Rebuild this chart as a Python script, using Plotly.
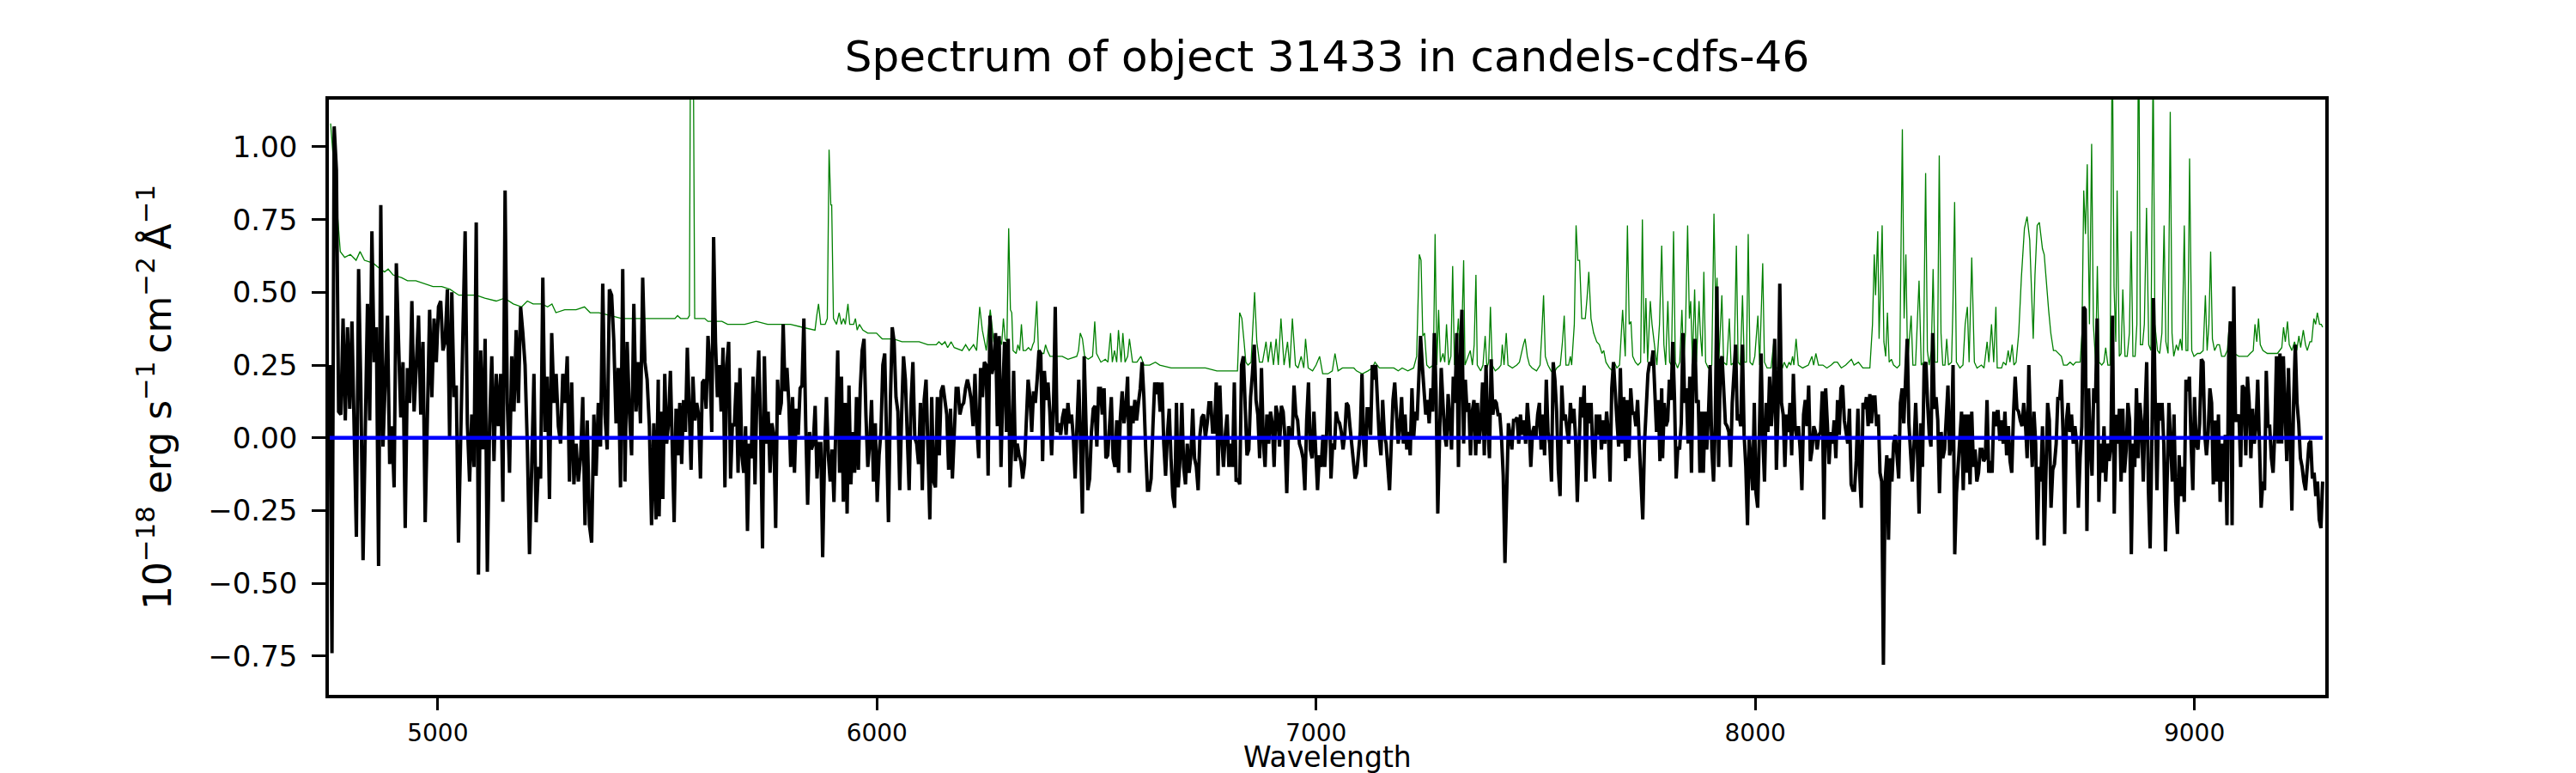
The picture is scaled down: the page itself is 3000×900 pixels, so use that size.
import numpy as np
import plotly.graph_objects as go

# wavelength ranges covered by each block of flux readings (Angstrom)
SEGMENT_RANGES = [(4754, 5502), (5504, 6266), (6266, 7028),
                  (7030, 7787), (7789, 8551), (8553, 9292)]

FLUX_1 = [0.25, -0.74, 1.07, 0.92, 0.09, 0.08, 0.41, 0.06, 0.38, 0.10, 0.40, -0.02, -0.34, 0.58, 0.17,
          -0.42, 0.10, 0.46, 0.06, 0.71, 0.26, 0.38, -0.44, 0.80, -0.03, 0.18, 0.42, -0.09, 0.04, -0.17,
          0.60, 0.33, 0.07, 0.26, -0.31, 0.24, 0.12, 0.47, 0.09, 0.25, 0.42, 0.08, 0.33, -0.29, 0.06,
          0.44, 0.14, 0.41, 0.26, 0.45, 0.47, 0.30, 0.33, 0.51, 0.00, 0.50, 0.14, 0.18, -0.36, 0.08,
          0.36, 0.71, 0.05, -0.15, 0.08, -0.10, 0.74, -0.47, 0.30, -0.04, 0.34, -0.46, 0.04, 0.28, -0.08,
          0.22, 0.04, 0.22, -0.22, 0.85, 0.12, -0.12, 0.28, 0.09, 0.37, 0.12, 0.45, 0.36, 0.25, -0.02,
          -0.40, -0.10, 0.22, -0.29, -0.10, -0.14, 0.55, 0.02, 0.21, -0.21, 0.36, 0.12, 0.22, 0.04, -0.02,
          0.22, 0.12, 0.28, -0.15, 0.19, -0.16, -0.02, -0.15, -0.07, 0.14, -0.30, 0.06, -0.30, -0.36, 0.08,
          -0.13, 0.12, -0.03, 0.53, 0.08, -0.04, 0.51, 0.49, 0.33, 0.05, 0.24, -0.17, 0.58, -0.15, 0.33,
          0.09, -0.06, 0.46, 0.09, 0.26, 0.05, 0.55, 0.26, 0.20, 0.04, -0.30, 0.05, -0.28, 0.20]

FLUX_2 = [-0.27, 0.09, -0.21, 0.22, -0.02, 0.05, 0.23, 0.00, -0.29, 0.10, -0.06, 0.12, -0.09, 0.13, 0.02,
          0.31, 0.11, -0.11, 0.21, 0.06, 0.12, 0.08, -0.14, 0.19, 0.20, 0.10, 0.35, 0.25, 0.02, 0.69,
          0.33, 0.14, 0.25, 0.09, 0.31, -0.17, 0.25, 0.33, -0.14, 0.05, 0.04, 0.19, -0.12, 0.24, -0.06,
          -0.12, 0.04, -0.32, -0.02, -0.07, 0.21, -0.16, 0.15, 0.30, 0.03, -0.38, 0.28, -0.02, 0.09, -0.12,
          0.05, 0.01, -0.31, 0.20, 0.08, 0.12, 0.39, 0.16, 0.24, 0.12, -0.10, 0.14, -0.12, 0.10, 0.01,
          0.17, 0.18, 0.41, 0.04, -0.23, 0.02, -0.04, -0.02, 0.11, -0.14, -0.02, -0.02, -0.41, -0.06, 0.14,
          -0.06, -0.15, -0.04, -0.22, 0.04, 0.30, -0.12, 0.21, -0.22, 0.12, -0.26, 0.18, -0.16, 0.02, -0.12,
          0.14, -0.11, 0.17, 0.30, 0.34, 0.08, -0.10, -0.02, 0.13, -0.15, 0.05, -0.22, -0.06, 0.02, 0.25,
          0.29, 0.04, -0.29, 0.12, 0.38, 0.33, 0.14, 0.09, -0.18, 0.08, 0.28, 0.20, 0.02, -0.18, 0.12,
          0.26, 0.00, -0.02, -0.09, 0.12, -0.18, 0.13, 0.20, -0.03, -0.28, 0.14, -0.15, -0.17, 0.14, -0.06,
          0.16, 0.18, 0.13, 0.08, -0.11, 0.10, -0.14, 0.02, 0.17, 0.17, 0.08, 0.11, 0.12, 0.17, 0.20,
          0.17, 0.13, 0.04, 0.22, 0.04, -0.07, 0.24, 0.14, 0.26, 0.25, -0.13, 0.42, 0.22, 0.25]

FLUX_3 = [0.25, 0.36, 0.04, 0.35, -0.10, 0.16, 0.33, 0.02, 0.34, -0.17, -0.02, 0.23, -0.08, -0.02, -0.06,
          -0.08, -0.14, -0.09, 0.06, 0.20, 0.14, 0.02, 0.16, 0.12, 0.20, 0.30, 0.29, -0.08, 0.23, 0.13,
          0.19, 0.09, -0.06, 0.10, 0.45, 0.02, 0.05, 0.01, 0.07, 0.10, 0.01, 0.12, 0.05, 0.08, 0.00,
          -0.14, 0.04, 0.20, -0.02, -0.26, 0.28, -0.02, -0.18, -0.14, 0.02, 0.10, 0.11, -0.03, 0.17, 0.17,
          0.08, 0.17, -0.07, -0.06, 0.04, 0.14, -0.07, -0.10, 0.06, -0.12, 0.07, 0.16, 0.05, 0.10, 0.21,
          -0.12, 0.11, 0.05, 0.13, 0.06, 0.12, 0.17, 0.26, 0.14, -0.04, -0.18, -0.18, -0.14, 0.04, 0.19,
          0.15, 0.19, 0.09, 0.19, -0.02, -0.13, 0.01, 0.10, -0.07, -0.20, -0.24, 0.12, -0.17, -0.07, 0.12,
          -0.10, -0.16, -0.02, -0.12, -0.06, 0.10, -0.07, -0.10, -0.18, 0.01, 0.07, 0.08, 0.00, 0.05, 0.12,
          0.12, 0.02, 0.02, 0.19, -0.13, 0.18, 0.00, -0.10, 0.01, 0.08, -0.10, -0.02, -0.10, 0.19, -0.15,
          -0.14, -0.16, 0.25, 0.28, 0.08, -0.06, -0.04, 0.14, 0.22, 0.32, 0.13, 0.08, -0.07, 0.24, -0.01,
          -0.10, 0.08, -0.02, 0.09, 0.05, -0.10, 0.11, 0.08, -0.03, 0.11, 0.09, 0.00, -0.19, 0.04, 0.01,
          0.00, 0.18, 0.08, 0.06, -0.02, -0.04, -0.07, -0.18, 0.06, 0.19, -0.04, -0.07, 0.09, -0.07, -0.18,
          -0.06, -0.10, 0.01, -0.10, 0.01, 0.20]

FLUX_4 = [0.20, -0.14, -0.02, -0.04, 0.09, 0.06, 0.05, 0.02, -0.04, 0.01, 0.12, 0.11, 0.04, -0.02, -0.10,
          -0.14, -0.12, -0.06, 0.02, 0.22, -0.02, -0.10, 0.10, 0.10, 0.01, 0.25, 0.20, 0.25, 0.12, 0.00,
          -0.06, 0.13, 0.01, -0.02, -0.10, -0.18, -0.02, 0.13, 0.19, 0.08, -0.02, 0.04, 0.14, -0.02, 0.08,
          -0.04, 0.02, -0.06, 0.17, 0.00, 0.09, 0.06, 0.25, 0.35, 0.25, 0.14, 0.08, 0.13, 0.05, 0.17,
          0.09, 0.36, 0.16, -0.26, 0.05, 0.24, 0.12, 0.01, -0.03, 0.15, 0.06, -0.04, 0.21, 0.12, 0.36,
          -0.10, 0.25, 0.44, -0.02, 0.20, 0.09, 0.12, -0.06, 0.09, 0.13, -0.06, 0.12, -0.02, 0.05, 0.19,
          -0.06, 0.25, 0.04, -0.07, 0.27, 0.08, 0.13, 0.12, 0.08, 0.08, 0.00, -0.13, -0.43, -0.15, 0.05,
          0.01, -0.04, 0.06, 0.06, 0.07, -0.02, 0.08, 0.01, 0.06, -0.02, 0.12, 0.04, -0.10, 0.02, 0.04,
          0.00, 0.08, 0.12, -0.04, 0.08, -0.06, 0.20, 0.02, -0.02, -0.15, 0.26, 0.20, 0.09, -0.11, -0.20,
          0.18, 0.06, 0.08, 0.02, -0.02, 0.12, 0.05, 0.10, 0.00, -0.22, -0.03, 0.14, 0.07, 0.18, -0.15,
          0.12, 0.05, 0.12, -0.05, -0.14, 0.08, 0.01, 0.08, -0.04, 0.06, -0.02, 0.09, 0.02, -0.15, 0.17,
          0.26, 0.14, 0.06, -0.03, 0.24, -0.02, 0.14, -0.08, 0.13, -0.07, 0.17, 0.08, 0.09, 0.04, 0.13,
          -0.02, -0.16, -0.28, -0.02, 0.12, 0.22, 0.26, 0.25, 0.30, 0.14, 0.02, 0.13, -0.08, 0.17]

FLUX_5 = [-0.07, 0.12, 0.04, 0.06, 0.20, 0.13, 0.33, 0.14, -0.14, -0.03, -0.04, 0.05, 0.36, 0.12, 0.17,
          -0.02, 0.21, -0.12, 0.25, 0.34, 0.12, 0.13, -0.12, 0.09, -0.12, 0.09, -0.04, 0.08, 0.25, -0.04,
          -0.15, 0.05, 0.52, -0.10, 0.26, 0.28, 0.13, 0.05, 0.04, 0.02, -0.10, 0.12, 0.22, 0.32, 0.06,
          0.08, 0.04, 0.32, 0.01, -0.10, -0.30, 0.00, -0.08, -0.18, 0.12, -0.19, -0.24, 0.05, 0.29, 0.00,
          -0.15, 0.12, 0.02, 0.21, 0.04, 0.13, 0.34, -0.11, 0.11, 0.53, 0.12, 0.08, -0.10, 0.08, 0.02,
          0.12, -0.06, 0.22, 0.04, 0.00, 0.04, -0.04, -0.18, 0.08, 0.13, 0.04, 0.18, -0.08, -0.04, 0.04,
          0.02, -0.04, 0.01, 0.02, 0.16, -0.28, 0.17, 0.05, -0.09, 0.02, -0.02, 0.06, -0.07, 0.13, 0.01,
          0.17, 0.18, 0.06, 0.02, -0.02, 0.10, -0.16, -0.18, -0.18, -0.08, 0.10, -0.12, -0.24, 0.12, 0.10,
          0.14, 0.04, 0.15, 0.05, 0.14, 0.14, 0.04, 0.08, -0.12, -0.15, -0.78, -0.15, -0.06, -0.35, -0.07,
          -0.15, -0.02, 0.01, -0.06, -0.14, 0.12, 0.17, 0.05, 0.22, 0.34, 0.05, -0.03, -0.15, -0.03, 0.12,
          -0.04, -0.26, 0.05, -0.10, 0.25, 0.26, 0.12, 0.01, -0.03, 0.36, 0.10, 0.14, 0.06, -0.19, 0.02,
          -0.07, -0.04, 0.08, 0.18, -0.06, -0.02, 0.25, -0.40, -0.19, -0.08, 0.01, 0.09, -0.18, 0.08, -0.12,
          0.08, -0.16, 0.09, -0.10, -0.04, -0.15, -0.12, -0.04, -0.04, -0.08, -0.07, 0.13, -0.12, -0.08, -0.12,
          0.09, 0.04, 0.09]

FLUX_6 = [0.09, -0.01, 0.06, -0.02, 0.09, -0.06, 0.04, -0.08, -0.12, 0.08, 0.21, 0.10, 0.09, 0.06, 0.04,
          0.12, 0.05, -0.07, 0.25, 0.04, -0.10, 0.09, -0.02, -0.35, -0.10, -0.15, 0.04, -0.37, -0.10, 0.12,
          0.06, -0.24, -0.11, -0.09, -0.02, 0.14, 0.13, 0.20, 0.02, -0.33, 0.06, 0.12, 0.02, 0.08, -0.02,
          0.04, -0.02, -0.24, -0.07, 0.04, 0.45, 0.44, -0.32, 0.17, -0.02, -0.13, 0.17, 0.12, 0.41, -0.22,
          -0.02, -0.12, 0.04, -0.15, -0.02, -0.08, -0.03, 0.42, -0.26, 0.08, -0.02, 0.10, -0.15, 0.10, -0.12,
          -0.04, 0.12, 0.06, -0.40, -0.02, -0.10, 0.17, -0.07, 0.12, 0.05, -0.15, 0.08, 0.26, -0.18, -0.38,
          -0.02, 0.48, 0.12, -0.18, 0.12, 0.06, 0.12, -0.02, -0.39, -0.07, 0.12, -0.02, -0.15, 0.08, -0.22,
          -0.33, -0.06, -0.20, -0.10, -0.22, 0.20, 0.16, 0.21, -0.02, -0.18, 0.14, -0.02, -0.04, 0.05, 0.27,
          0.26, 0.01, -0.06, 0.02, 0.17, 0.12, -0.16, 0.06, -0.15, 0.08, -0.22, -0.02, -0.15, 0.01, -0.30,
          0.28, 0.40, -0.30, 0.52, 0.06, 0.06, 0.08, -0.10, 0.18, 0.17, -0.06, 0.21, 0.12, -0.07, 0.10,
          -0.02, 0.04, 0.20, -0.02, -0.24, -0.15, -0.18, 0.23, 0.04, 0.04, -0.07, -0.12, 0.02, 0.28, -0.02,
          0.29, -0.02, 0.28, 0.12, -0.08, 0.24, 0.01, -0.25, 0.12, 0.32, 0.12, 0.05, -0.07, -0.10, -0.15,
          -0.18, -0.10, -0.02, -0.01, -0.14, -0.12, -0.20, -0.15, -0.28, -0.31, -0.15]

# sky / noise spectrum, (wavelength, value) vertices
SKY_BLUE = [(4756, 1.08), (4768, 0.85), (4778, 0.64), (4788, 0.62), (4801, 0.63), (4814, 0.61),
            (4823, 0.64), (4833, 0.61), (4853, 0.60), (4869, 0.58), (4879, 0.57), (4887, 0.58),
            (4898, 0.56), (4918, 0.55), (4931, 0.54), (4950, 0.54), (4970, 0.53), (4989, 0.52),
            (5009, 0.52), (5028, 0.51), (5048, 0.49), (5068, 0.49), (5087, 0.49), (5107, 0.48),
            (5133, 0.47), (5152, 0.48), (5172, 0.46), (5191, 0.45), (5204, 0.47), (5217, 0.46),
            (5237, 0.46), (5250, 0.45), (5260, 0.46), (5269, 0.43), (5289, 0.44), (5315, 0.44),
            (5334, 0.45), (5347, 0.43), (5367, 0.43), (5393, 0.42), (5419, 0.41), (5445, 0.41),
            (5465, 0.41), (5484, 0.41)]

SKY_GREEN = [(5504, 0.41), (5524, 0.41), (5540, 0.41), (5546, 0.42), (5553, 0.41), (5569, 0.41),
             (5573, 0.42), (5576, 1.60), (5581, 1.60), (5585, 0.41), (5589, 0.41), (5595, 0.41),
             (5602, 0.41), (5608, 0.41), (5615, 0.40), (5634, 0.40), (5647, 0.40), (5660, 0.39),
             (5680, 0.39), (5699, 0.39), (5725, 0.40), (5751, 0.39), (5777, 0.39), (5803, 0.39),
             (5830, 0.38), (5859, 0.37), (5863, 0.42), (5867, 0.46), (5872, 0.39), (5882, 0.39),
             (5887, 0.41), (5891, 0.99), (5895, 0.80), (5897, 0.80), (5901, 0.41), (5908, 0.39),
             (5914, 0.43), (5919, 0.39), (5924, 0.41), (5928, 0.39), (5934, 0.46), (5938, 0.39),
             (5947, 0.39), (5951, 0.41), (5955, 0.37), (5960, 0.39), (5968, 0.37), (5979, 0.36),
             (5999, 0.36), (6012, 0.34), (6025, 0.34), (6038, 0.34), (6057, 0.33), (6077, 0.33),
             (6096, 0.33), (6116, 0.32), (6135, 0.32), (6141, 0.33), (6148, 0.32), (6155, 0.33),
             (6161, 0.31), (6169, 0.33), (6176, 0.31), (6194, 0.30), (6202, 0.32), (6210, 0.30),
             (6220, 0.32), (6227, 0.30), (6234, 0.45), (6240, 0.37), (6249, 0.30), (6258, 0.44)]

SKY_RED = [(6266, 0.33), (6273, 0.31), (6279, 0.34), (6284, 0.32), (6288, 0.41), (6292, 0.34),
           (6296, 0.33), (6300, 0.72), (6304, 0.44), (6307, 0.43), (6310, 0.30), (6317, 0.29),
           (6321, 0.32), (6325, 0.30), (6329, 0.39), (6333, 0.30), (6339, 0.30), (6345, 0.31),
           (6351, 0.30), (6355, 0.32), (6358, 0.33), (6364, 0.47), (6368, 0.29), (6373, 0.29),
           (6380, 0.29), (6384, 0.32), (6388, 0.30), (6394, 0.28), (6403, 0.28), (6416, 0.28),
           (6422, 0.28), (6435, 0.27), (6455, 0.28), (6459, 0.30), (6463, 0.36), (6468, 0.34),
           (6473, 0.28), (6481, 0.27), (6491, 0.28), (6496, 0.40), (6500, 0.29), (6510, 0.26),
           (6520, 0.27), (6526, 0.26), (6532, 0.36), (6536, 0.26), (6541, 0.30), (6546, 0.26),
           (6550, 0.37), (6556, 0.26), (6560, 0.36), (6565, 0.26), (6571, 0.28), (6575, 0.34),
           (6582, 0.26), (6592, 0.26), (6601, 0.28), (6608, 0.25), (6621, 0.25), (6634, 0.26),
           (6644, 0.25), (6670, 0.24), (6696, 0.24), (6722, 0.24), (6748, 0.24), (6774, 0.23),
           (6800, 0.23), (6821, 0.23), (6826, 0.43), (6831, 0.41), (6836, 0.33), (6840, 0.26),
           (6845, 0.25), (6852, 0.26), (6860, 0.50), (6865, 0.33), (6871, 0.26), (6878, 0.26),
           (6886, 0.33), (6891, 0.26), (6897, 0.33), (6903, 0.25), (6909, 0.34), (6914, 0.25),
           (6920, 0.41), (6927, 0.25), (6935, 0.33), (6940, 0.24), (6946, 0.41), (6953, 0.25),
           (6959, 0.24), (6966, 0.28), (6972, 0.24), (6976, 0.34), (6982, 0.24), (6992, 0.23),
           (7000, 0.25), (7008, 0.28), (7015, 0.22)]

SKY_NEAR_IR = [(7027, 0.22), (7037, 0.23), (7043, 0.29), (7050, 0.23), (7060, 0.24), (7073, 0.24),
               (7086, 0.24), (7092, 0.23), (7105, 0.22), (7118, 0.23), (7128, 0.24), (7134, 0.26),
               (7144, 0.24), (7154, 0.24), (7164, 0.24), (7177, 0.24), (7187, 0.23), (7196, 0.24),
               (7209, 0.23), (7222, 0.24), (7229, 0.28), (7235, 0.63), (7239, 0.61), (7243, 0.35),
               (7247, 0.36), (7252, 0.25), (7258, 0.24), (7267, 0.25), (7271, 0.70), (7275, 0.25),
               (7279, 0.44), (7283, 0.26), (7289, 0.29), (7293, 0.26), (7297, 0.39), (7302, 0.25),
               (7307, 0.28), (7311, 0.59), (7315, 0.25), (7320, 0.32), (7324, 0.41), (7328, 0.28),
               (7332, 0.37), (7336, 0.61), (7339, 0.25), (7346, 0.28), (7351, 0.30), (7356, 0.25),
               (7360, 0.32), (7364, 0.56), (7367, 0.25), (7375, 0.23), (7380, 0.25), (7385, 0.35),
               (7389, 0.24), (7393, 0.26), (7397, 0.45), (7401, 0.25), (7408, 0.23), (7416, 0.24),
               (7421, 0.25), (7424, 0.32), (7428, 0.25), (7433, 0.36), (7437, 0.25), (7447, 0.24),
               (7457, 0.25), (7463, 0.26), (7468, 0.30), (7472, 0.32), (7476, 0.34), (7481, 0.28),
               (7486, 0.25), (7492, 0.24), (7502, 0.23), (7510, 0.25), (7514, 0.36), (7518, 0.49),
               (7522, 0.28), (7528, 0.25), (7535, 0.23), (7541, 0.22), (7548, 0.24), (7556, 0.25),
               (7561, 0.33), (7565, 0.42), (7569, 0.25), (7575, 0.25), (7579, 0.28), (7582, 0.25),
               (7588, 0.39), (7592, 0.73), (7596, 0.61), (7600, 0.61), (7605, 0.41), (7613, 0.41),
               (7617, 0.48), (7621, 0.57), (7626, 0.41), (7632, 0.36), (7639, 0.33), (7645, 0.32),
               (7651, 0.29), (7655, 0.30), (7660, 0.26), (7668, 0.24), (7675, 0.23), (7679, 0.26),
               (7685, 0.24), (7691, 0.25), (7698, 0.44), (7704, 0.28), (7709, 0.73), (7713, 0.39),
               (7717, 0.40), (7721, 0.28), (7727, 0.26), (7733, 0.25), (7739, 0.26), (7743, 0.75),
               (7747, 0.29), (7751, 0.48), (7755, 0.26), (7761, 0.47), (7765, 0.39), (7769, 0.34),
               (7776, 0.25), (7782, 0.39), (7787, 0.66)]

SKY_OH = [(7792, 0.32), (7796, 0.25), (7801, 0.47), (7805, 0.26), (7809, 0.25), (7814, 0.71),
          (7818, 0.26), (7823, 0.24), (7828, 0.26), (7833, 0.44), (7837, 0.26), (7841, 0.36),
          (7846, 0.73), (7850, 0.41), (7853, 0.47), (7857, 0.26), (7862, 0.51), (7866, 0.26),
          (7872, 0.47), (7875, 0.36), (7879, 0.28), (7883, 0.57), (7887, 0.26), (7893, 0.24),
          (7901, 0.25), (7906, 0.77), (7910, 0.44), (7913, 0.55), (7917, 0.26), (7924, 0.49),
          (7928, 0.26), (7935, 0.25), (7941, 0.41), (7945, 0.25), (7952, 0.26), (7957, 0.66),
          (7961, 0.26), (7966, 0.25), (7971, 0.49), (7975, 0.26), (7980, 0.26), (7984, 0.70),
          (7988, 0.26), (7994, 0.25), (7999, 0.28), (8006, 0.42), (8010, 0.25), (8017, 0.60),
          (8021, 0.26), (8027, 0.24), (8036, 0.24), (8043, 0.34), (8047, 0.24), (8056, 0.24),
          (8062, 0.24), (8066, 0.26), (8072, 0.24), (8077, 0.26), (8081, 0.25), (8085, 0.28),
          (8088, 0.25), (8093, 0.34), (8098, 0.25), (8108, 0.24), (8121, 0.25), (8129, 0.28),
          (8133, 0.25), (8138, 0.29), (8144, 0.25), (8154, 0.25), (8163, 0.24), (8173, 0.25),
          (8180, 0.26), (8187, 0.26), (8196, 0.24), (8206, 0.25), (8219, 0.27), (8225, 0.25),
          (8235, 0.26), (8245, 0.24), (8261, 0.24), (8267, 0.39), (8271, 0.63), (8274, 0.49),
          (8279, 0.71), (8282, 0.34), (8286, 0.55), (8289, 0.73), (8293, 0.33), (8297, 0.28),
          (8301, 0.43), (8305, 0.26), (8310, 0.27), (8315, 0.25), (8323, 0.24), (8329, 0.25),
          (8335, 1.06), (8339, 0.41), (8343, 0.63), (8347, 0.26), (8350, 0.32), (8355, 0.42),
          (8359, 0.25), (8365, 0.25), (8373, 0.54), (8378, 0.25), (8383, 0.26), (8388, 0.91),
          (8392, 0.30), (8396, 0.25), (8401, 0.30), (8405, 0.58), (8409, 0.26), (8415, 0.26),
          (8419, 0.97), (8423, 0.36), (8427, 0.25), (8432, 0.25), (8436, 0.34), (8440, 0.25),
          (8447, 0.26), (8450, 0.44), (8454, 0.81), (8458, 0.26), (8466, 0.24), (8473, 0.25),
          (8478, 0.39), (8483, 0.45), (8487, 0.26), (8493, 0.62), (8499, 0.26), (8505, 0.24),
          (8515, 0.25), (8521, 0.24), (8528, 0.33), (8532, 0.26), (8538, 0.39), (8543, 0.26),
          (8548, 0.45)]

SKY_FAR = [(8551, 0.24), (8561, 0.24), (8565, 0.26), (8571, 0.25), (8576, 0.30), (8580, 0.26),
           (8585, 0.32), (8589, 0.25), (8594, 0.26), (8600, 0.36), (8606, 0.55), (8613, 0.72),
           (8619, 0.76), (8625, 0.68), (8629, 0.52), (8633, 0.34), (8637, 0.56), (8642, 0.73),
           (8647, 0.74), (8654, 0.65), (8658, 0.63), (8663, 0.53), (8668, 0.44), (8673, 0.36),
           (8679, 0.30), (8684, 0.30), (8691, 0.29), (8697, 0.28), (8702, 0.25), (8710, 0.25),
           (8717, 0.26), (8724, 0.25), (8730, 0.26), (8740, 0.26), (8744, 0.36), (8748, 0.85),
           (8752, 0.70), (8756, 0.94), (8761, 0.39), (8766, 1.01), (8770, 0.39), (8775, 0.26),
           (8779, 0.59), (8783, 0.26), (8789, 0.25), (8794, 0.26), (8798, 0.31), (8803, 0.25),
           (8808, 0.25), (8813, 1.40), (8817, 0.52), (8821, 0.33), (8824, 0.85), (8829, 0.28),
           (8833, 0.29), (8837, 0.51), (8842, 0.28), (8847, 0.28), (8852, 0.36), (8856, 0.71),
           (8860, 0.28), (8865, 0.28), (8869, 0.39), (8873, 1.50), (8877, 0.32), (8882, 0.32),
           (8886, 0.39), (8891, 0.79), (8896, 0.32), (8901, 0.30), (8906, 1.30), (8910, 0.39),
           (8916, 0.30), (8921, 0.29), (8926, 0.36), (8931, 0.73), (8935, 0.33), (8940, 0.29),
           (8945, 1.12), (8949, 0.36), (8953, 0.28), (8959, 0.32), (8963, 0.30), (8968, 0.34),
           (8972, 0.30), (8977, 0.73), (8981, 0.30), (8985, 0.30), (8989, 0.96), (8994, 0.30),
           (8999, 0.28), (9007, 0.29), (9013, 0.29), (9020, 0.30), (9025, 0.49), (9029, 0.30),
           (9033, 0.39), (9037, 0.64), (9041, 0.34), (9046, 0.30), (9052, 0.32), (9057, 0.32),
           (9062, 0.28), (9069, 0.28), (9075, 0.30), (9080, 0.40), (9084, 0.30), (9091, 0.29),
           (9101, 0.28), (9111, 0.28), (9121, 0.28), (9127, 0.29), (9134, 0.30), (9138, 0.39),
           (9142, 0.33), (9146, 0.41), (9150, 0.32), (9156, 0.30), (9166, 0.29), (9176, 0.29),
           (9189, 0.29), (9199, 0.31), (9203, 0.38), (9207, 0.33), (9212, 0.40), (9216, 0.32),
           (9222, 0.30), (9228, 0.33), (9233, 0.30), (9238, 0.35), (9242, 0.31), (9248, 0.37),
           (9253, 0.32), (9257, 0.30), (9263, 0.33), (9267, 0.33), (9272, 0.41), (9276, 0.39),
           (9280, 0.43), (9285, 0.39), (9289, 0.39), (9292, 0.38)]

ZERO_WAVE = [4754, 9292]
ZERO_FLUX = [0.0, 0.0]

X_TICKS = [5000, 6000, 7000, 8000, 9000]
Y_TICKS = [-0.75, -0.50, -0.25, 0.00, 0.25, 0.50, 0.75, 1.00]

TITLE = 'Spectrum of object 31433 in candels-cdfs-46'
X_LABEL = 'Wavelength'
Y_LABEL = ('10<sup>\u221218</sup> erg s<sup>\u22121</sup>\u2009cm<sup>\u22122</sup>'
           '\u2009\u00c5<sup>\u22121</sup>')
FONT = 'DejaVu Sans'

# object flux: each block of readings spread evenly over its wavelength range
flux_blocks = [FLUX_1, FLUX_2, FLUX_3, FLUX_4, FLUX_5, FLUX_6]
wave = np.concatenate([np.linspace(lo, hi, len(f)) for (lo, hi), f in zip(SEGMENT_RANGES, flux_blocks)])
flux = np.concatenate([np.array(f) for f in flux_blocks])

sky = SKY_BLUE + SKY_GREEN + SKY_RED + SKY_NEAR_IR + SKY_OH + SKY_FAR
sky_wave = [p[0] for p in sky]
sky_flux = [p[1] for p in sky]

fig = go.Figure()
fig.add_trace(go.Scatter(x=sky_wave, y=sky_flux, mode='lines',
                         line=dict(color='#008000', width=1.3), showlegend=False))
fig.add_trace(go.Scatter(x=wave, y=flux, mode='lines',
                         line=dict(color='black', width=4), showlegend=False))
fig.add_trace(go.Scatter(x=ZERO_WAVE, y=ZERO_FLUX, mode='lines',
                         line=dict(color='#0000ff', width=4.5), showlegend=False))

# x label as a paper annotation so it sits just under the tick labels
fig.add_annotation(text=X_LABEL, xref='paper', yref='paper', x=0.5, y=-0.105,
                   xanchor='center', yanchor='middle', showarrow=False,
                   font=dict(family=FONT, size=33, color='black'))

fig.update_layout(
    width=3000,
    height=900,
    margin=dict(l=375, r=300, t=108, b=99),
    paper_bgcolor='white',
    plot_bgcolor='white',
    font=dict(family=FONT, color='black'),
    title=dict(text=TITLE, x=0.5, xref='paper', xanchor='center',
               y=1 - 57 / 900, yanchor='middle',
               font=dict(family=FONT, size=50, color='black')),
    xaxis=dict(
        range=[4752, 9298],
        tickvals=X_TICKS,
        ticks='outside', ticklen=14, tickwidth=3, tickcolor='black',
        tickfont=dict(family=FONT, size=28, color='black'),
        ticklabelstandoff=3,
        showgrid=False, zeroline=False,
        showline=True, linecolor='black', linewidth=3.5, mirror=True,
    ),
    yaxis=dict(
        range=[-0.883, 1.162],
        tickvals=Y_TICKS,
        tickformat='.2f',
        ticks='outside', ticklen=16, tickwidth=3, tickcolor='black',
        tickfont=dict(family=FONT, size=34, color='black'),
        ticklabelstandoff=10,
        showgrid=False, zeroline=False,
        showline=True, linecolor='black', linewidth=3.5, mirror=True,
        title=dict(text=Y_LABEL, standoff=30,
                   font=dict(family=FONT, size=44, color='black')),
    ),
)

fig.write_html('out.html')
